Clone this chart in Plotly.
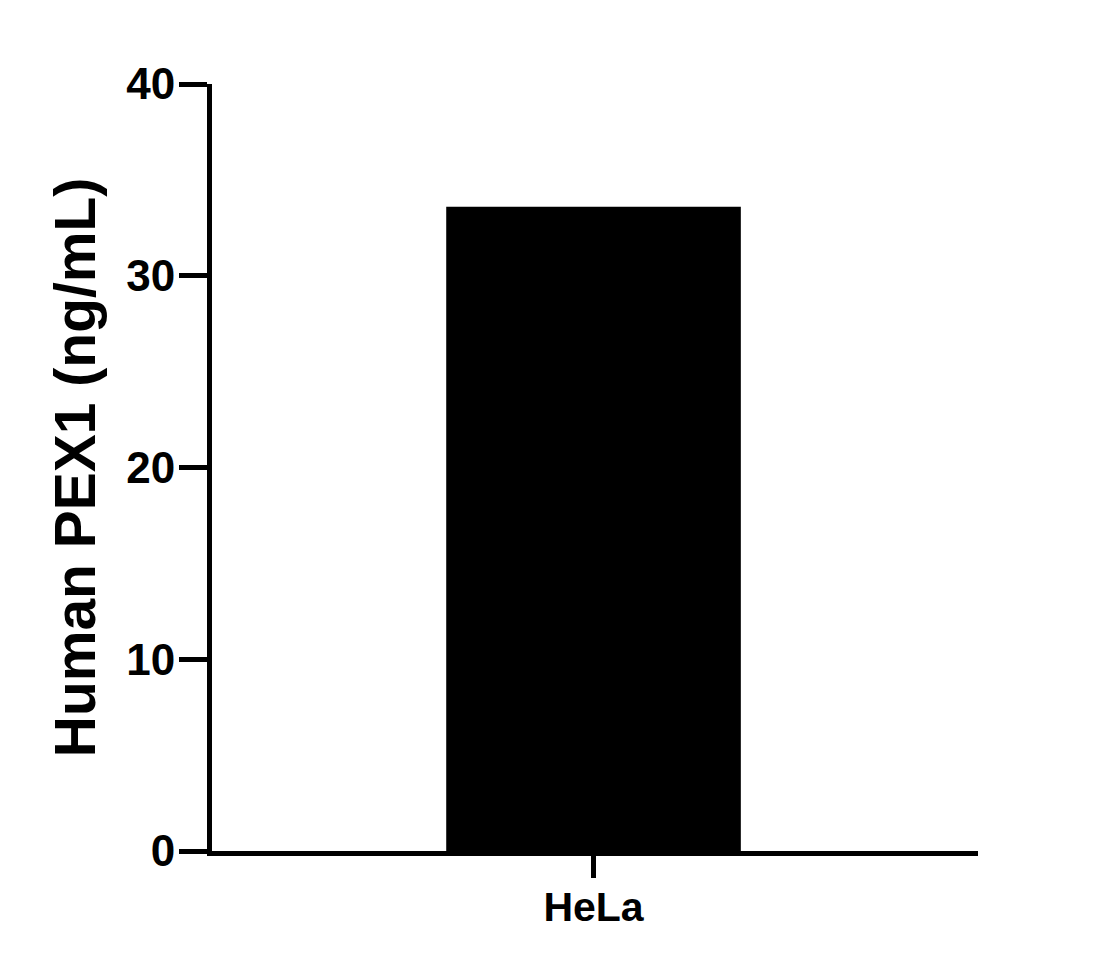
import plotly.graph_objects as go

# Sample and measured concentration
samples = ["HeLa"]
pex1_ng_ml = [33.6]

y_ticks = [0, 10, 20, 30, 40]

font_family = "Liberation Sans, Arial, sans-serif"

fig = go.Figure()
fig.add_trace(go.Bar(
    x=samples,
    y=pex1_ng_ml,
    width=1.0,
    marker=dict(color="black", line=dict(width=0)),
    showlegend=False,
))

# page body adds ~8px offset, so margins are shifted accordingly
fig.update_layout(
    width=1116,
    height=968,
    plot_bgcolor="white",
    paper_bgcolor="white",
    margin=dict(l=204, r=146, t=76, b=125),
    font=dict(family=font_family, color="black", size=40, weight="bold"),
)

fig.update_xaxes(
    range=[-1.295, 1.305],
    showline=True, linecolor="black", linewidth=5,
    ticks="outside", ticklen=22, tickwidth=5, tickcolor="black",
    tickfont=dict(size=41, family=font_family, weight="bold"),
    ticklabelstandoff=-6,
    showgrid=False, zeroline=False,
)

fig.update_yaxes(
    range=[0, 40],
    tickvals=y_ticks,
    showline=True, linecolor="black", linewidth=5,
    ticks="outside", ticklen=28, tickwidth=5, tickcolor="black",
    tickfont=dict(size=44, family=font_family, weight="bold"),
    ticklabelstandoff=-5,
    showgrid=False, zeroline=False,
    title=dict(text="Human PEX1 (ng/mL)", standoff=14,
               font=dict(size=57, family=font_family, weight="bold")),
)

fig.write_html("out.html")
